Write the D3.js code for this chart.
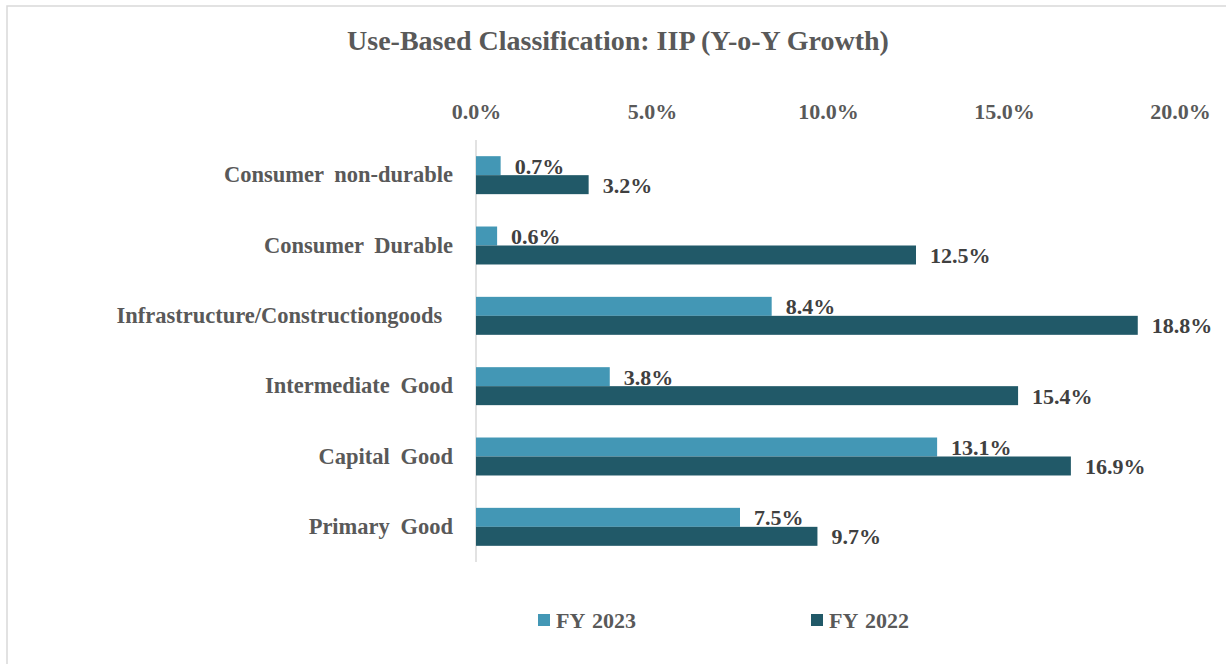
<!DOCTYPE html>
<html>
<head>
<meta charset="utf-8">
<script src="https://cdn.jsdelivr.net/npm/d3@7"></script>
<style>
  html, body { margin: 0; padding: 0; background: #ffffff; }
  svg { display: block; }
  text { font-family: "Liberation Serif", "Times New Roman", serif; font-weight: bold; }
</style>
</head>
<body>
<svg id="chart" width="1226" height="664"></svg>
<script>
const title = "Use-Based Classification: IIP (Y-o-Y Growth)";
const categories = ["Consumer non-durable", "Consumer Durable", "Infrastructure/Constructiongoods\u00a0", "Intermediate Good", "Capital Good", "Primary Good"];
const seriesNames = ["FY 2023", "FY 2022"];
const fy2023 = [0.7, 0.6, 8.4, 3.8, 13.1, 7.5];
const fy2022 = [3.2, 12.5, 18.8, 15.4, 16.9, 9.7];
const xTicks = [0, 5, 10, 15, 20];
const colors = ["#4397b5", "#215968"];

const svg = d3.select("#chart");

// chart border (only top & left visible in reference)
svg.append("rect")
  .attr("x", 7).attr("y", 6).attr("width", 1240).attr("height", 700)
  .attr("fill", "none").attr("stroke", "#d9d9d9").attr("stroke-width", 1.5);

svg.append("text")
  .attr("x", 618).attr("y", 50)
  .attr("text-anchor", "middle")
  .attr("font-size", 28)
  .attr("fill", "#595959")
  .text(title);

const x = d3.scaleLinear().domain([0, 20]).range([476, 1180]);
const y = d3.scaleBand().domain(categories).range([140, 562]).paddingInner(0.46).paddingOuter(0.23);
const ySub = d3.scaleBand().domain(seriesNames).range([0, y.bandwidth()]);

// top axis labels
const axis = d3.axisTop(x).tickValues(xTicks).tickSize(0).tickPadding(0)
  .tickFormat(d => d.toFixed(1) + "%");
const gAxis = svg.append("g").attr("transform", "translate(0,119)").call(axis);
gAxis.select(".domain").remove();
gAxis.selectAll("text")
  .attr("font-size", 22)
  .attr("fill", "#595959")
  .attr("dy", 0)
  .style("font-family", "'Liberation Serif', 'Times New Roman', serif")
  .style("font-weight", "bold");

// zero line
svg.append("line")
  .attr("x1", x(0)).attr("x2", x(0))
  .attr("y1", 140).attr("y2", 562)
  .attr("stroke", "#d9d9d9").attr("stroke-width", 1.5);

// category labels
svg.append("g").selectAll("text")
  .data(categories)
  .join("text")
  .attr("x", 453)
  .attr("y", d => y(d) + y.bandwidth() / 2 + 7)
  .attr("text-anchor", "end")
  .attr("font-size", 22.5)
  .attr("fill", "#595959")
  .attr("word-spacing", 5)
  .style("white-space", "pre")
  .text(d => d);

const series = [fy2023, fy2022];
series.forEach((vals, si) => {
  const name = seriesNames[si];
  const g = svg.append("g");
  g.selectAll("rect")
    .data(vals)
    .join("rect")
    .attr("x", x(0))
    .attr("y", (d, i) => y(categories[i]) + ySub(name))
    .attr("width", d => x(d) - x(0))
    .attr("height", ySub.bandwidth())
    .attr("fill", colors[si]);
  g.selectAll("text")
    .data(vals)
    .join("text")
    .attr("x", d => x(d) + 14)
    .attr("y", (d, i) => y(categories[i]) + ySub(name) + ySub.bandwidth() - 1.5)
    .attr("font-size", 22)
    .attr("fill", "#404040")
    .text(d => d.toFixed(1) + "%");
});

// legend
const legendX = [538, 811];
const lg = svg.append("g").selectAll("g")
  .data(seriesNames)
  .join("g")
  .attr("transform", (d, i) => `translate(${legendX[i]},614)`);
lg.append("rect").attr("width", 12).attr("height", 12).attr("fill", (d, i) => colors[i]);
lg.append("text")
  .attr("x", 18).attr("y", 14)
  .attr("font-size", 22)
  .attr("fill", "#595959")
  .attr("word-spacing", 2)
  .text(d => d);
</script>
</body>
</html>
